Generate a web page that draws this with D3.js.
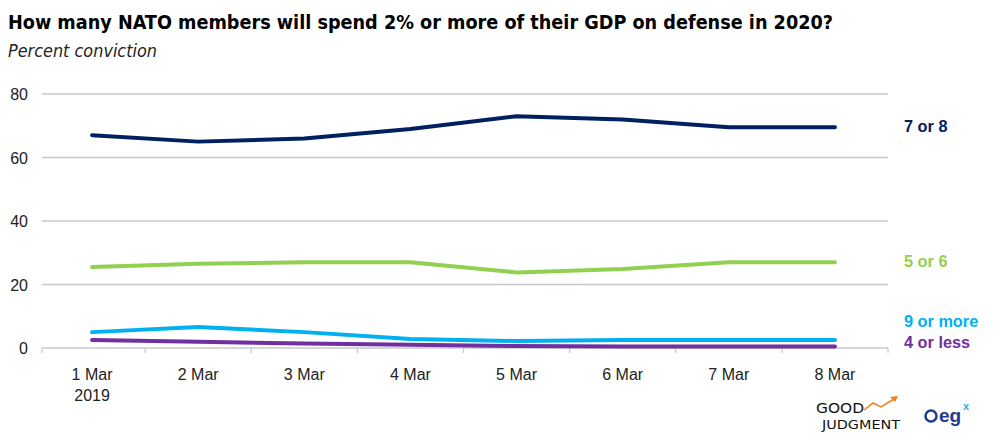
<!DOCTYPE html>
<html><head><meta charset="utf-8">
<script src="https://cdn.jsdelivr.net/npm/d3@7"></script>
<style>body{margin:0;background:#fff}svg{display:block}</style>
</head><body>
<svg id="c" width="1000" height="447"></svg>
<script>
const categories = ["1 Mar","2 Mar","3 Mar","4 Mar","5 Mar","6 Mar","7 Mar","8 Mar"];
const subLabels = ["2019","","","","","","",""];
const s78 = [67, 65, 66, 69, 73, 72, 69.5, 69.5];
const s56 = [25.5, 26.5, 27, 27, 23.8, 24.9, 27, 27];
const s9  = [5, 6.6, 5, 2.8, 2.2, 2.5, 2.5, 2.5];
const s4  = [2.5, 2, 1.4, 1, 0.6, 0.5, 0.5, 0.5];
const yTicks = [0, 20, 40, 60, 80];
const seriesNames = ["7 or 8", "5 or 6", "9 or more", "4 or less"];
const series = [
  {name: seriesNames[0], values: s78, color: "#002060", labelY: 69.5},
  {name: seriesNames[1], values: s56, color: "#92d050", labelY: 27},
  {name: seriesNames[2], values: s9,  color: "#00b0f0", labelY: 8.2},
  {name: seriesNames[3], values: s4,  color: "#7030a0", labelY: 1.6}
];

const svg = d3.select("#c");
const x = d3.scaleBand().domain(categories).range([39, 888]);
const y = d3.scaleLinear().domain([0, 80]).range([348, 94]);

svg.append("text").attr("x", 8).attr("y", 29)
  .attr("font-family", "'DejaVu Sans Condensed', 'DejaVu Sans'").attr("font-stretch","condensed")
  .attr("font-weight", "bold").attr("font-size", 19.6).attr("fill", "#000")
  .attr("textLength", 825).attr("lengthAdjust", "spacingAndGlyphs")
  .text("How many NATO members will spend 2% or more of their GDP on defense in 2020?");
svg.append("text").attr("x", 8).attr("y", 57)
  .attr("font-family", "'Liberation Sans Narrow', 'DejaVu Sans Condensed', sans-serif")
  .attr("font-style", "italic").attr("font-size", 17.5).attr("fill", "#222")
  .attr("textLength", 149).attr("lengthAdjust", "spacingAndGlyphs")
  .text("Percent conviction");

// gridlines
svg.append("g").selectAll("line").data(yTicks.filter(d => d > 0)).join("line")
  .attr("x1", 42).attr("x2", 888).attr("y1", d => y(d)).attr("y2", d => y(d))
  .attr("stroke", "#c8c8c8").attr("stroke-width", 1.3);

// y labels
svg.append("g").selectAll("text").data(yTicks).join("text")
  .attr("x", 28).attr("y", d => y(d) + 6).attr("text-anchor", "end")
  .attr("font-family", "'Liberation Sans', Arial, sans-serif").attr("font-size", 16).attr("fill", "#222")
  .text(d => d);

// x axis
const xAxis = d3.axisBottom(x).tickSize(0).tickFormat("");
const gx = svg.append("g").attr("transform", `translate(0,${y(0)})`).call(xAxis);
gx.select(".domain").attr("stroke", "#c8c8c8").attr("stroke-width", 1.5).attr("d", "M42,0H888");
const bounds = categories.map(c => x(c)).concat([x.range()[1]]);
svg.append("g").selectAll("line").data(bounds.slice(1)).join("line")
  .attr("x1", d => d).attr("x2", d => d).attr("y1", y(0)).attr("y2", y(0) + 5)
  .attr("stroke", "#c8c8c8").attr("stroke-width", 1.3);
svg.append("line").attr("x1", 42).attr("x2", 42).attr("y1", y(0)).attr("y2", y(0)+5)
  .attr("stroke", "#c8c8c8").attr("stroke-width", 1.3);

const xl = svg.append("g").attr("font-family", "'Liberation Sans', Arial, sans-serif")
  .attr("font-size", 16).attr("fill", "#222").attr("text-anchor", "middle");
xl.selectAll("text.a").data(categories).join("text").attr("class","a")
  .attr("x", d => x(d) + x.bandwidth()/2).attr("y", 380).text(d => d);
xl.selectAll("text.b").data(categories).join("text").attr("class","b")
  .attr("x", (d,i) => x(d) + x.bandwidth()/2).attr("y", 401).text((d,i) => subLabels[i]);

// lines
const line = d3.line().x((d,i) => x(categories[i]) + x.bandwidth()/2).y(d => y(d));
[...series].reverse().forEach(s => {
  svg.append("path").datum(s.values).attr("d", line)
    .attr("fill", "none").attr("stroke", s.color).attr("stroke-width", 4)
    .attr("stroke-linecap", "round").attr("stroke-linejoin", "round");
});

// labels
svg.append("g").selectAll("text").data(series).join("text")
  .attr("x", 904).attr("y", d => y(d.labelY) + 5)
  .attr("font-family", "'Liberation Sans', Arial, sans-serif").attr("font-weight", "bold")
  .attr("font-size", 16.3).attr("fill", d => d.color).text(d => d.name);

// logos
const lg = svg.append("g").attr("font-family", "'DejaVu Sans Condensed', 'DejaVu Sans', sans-serif").attr("fill", "#111");
lg.append("text").attr("x", 816).attr("y", 413).attr("font-size", 14)
  .attr("textLength", 48).attr("lengthAdjust", "spacingAndGlyphs").text("GOOD");
lg.append("text").attr("x", 822).attr("y", 429).attr("font-size", 13)
  .attr("textLength", 78).attr("lengthAdjust", "spacingAndGlyphs").text("JUDGMENT");
lg.append("path").attr("d", "M864,410 L873,403 L881,407 L894,399").attr("fill","none")
  .attr("stroke", "#f07f1e").attr("stroke-width", 1.5);
lg.append("path").attr("d", "M890,397 L898,396 L895,402 Z").attr("fill", "#f07f1e");
lg.append("circle").attr("cx", 931).attr("cy", 416).attr("r", 5.5).attr("fill","none")
  .attr("stroke", "#1f3b8c").attr("stroke-width", 2.5);
lg.append("text").attr("x", 939).attr("y", 422).attr("font-size", 19).attr("font-weight","bold")
  .attr("fill", "#1f3b8c").attr("font-family","'Liberation Sans', Arial, sans-serif").text("eg");
lg.append("text").attr("x", 963).attr("y", 410).attr("font-size", 11).attr("font-weight","bold")
  .attr("fill", "#1ab0e8").attr("font-family","'Liberation Sans', Arial, sans-serif").text("x");
</script>
</body></html>
